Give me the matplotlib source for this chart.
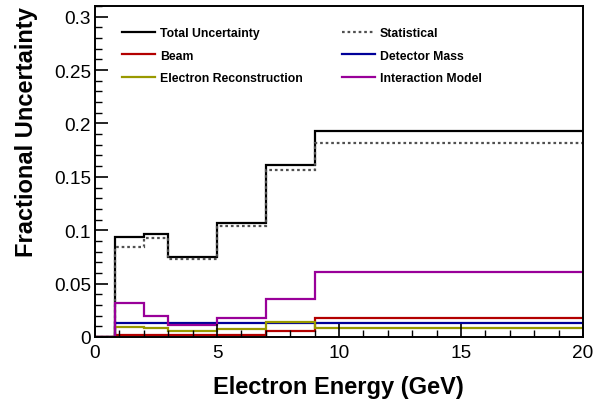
import matplotlib
matplotlib.use("Agg")
import matplotlib.pyplot as plt
from matplotlib.ticker import MultipleLocator, FixedFormatter, FixedLocator

plt.rcParams['font.family'] = ['Liberation Sans', 'DejaVu Sans']

# bin edges (GeV) and fractional uncertainties per bin
edges = [0, 0.8, 2, 3, 5, 7, 9, 20]
total = [0, 0.0935, 0.096, 0.075, 0.1065, 0.1615, 0.193]
statistical = [0, 0.084, 0.0925, 0.073, 0.104, 0.156, 0.182]
beam = [0, 0.0016, 0.0016, 0.0015, 0.002, 0.006, 0.0178]
detector_mass = [0, 0.0128, 0.0128, 0.0128, 0.0128, 0.0128, 0.0128]
electron_reco = [0, 0.0097, 0.0087, 0.006, 0.0075, 0.0143, 0.0087]
interaction = [0, 0.0318, 0.020, 0.0112, 0.018, 0.036, 0.0605]

W, H = 600, 402
fig = plt.figure(figsize=(6, 4.02), dpi=100)
ax = fig.add_axes([95 / W, 1 - 338 / H, 488 / W, 331 / H])

lw = 1.6
ax.stairs(total, edges, baseline=None, color='black', lw=lw, label='Total Uncertainty')
ax.stairs(statistical, edges, baseline=None, color='#505050', lw=lw, ls=(0, (1.2, 1.3)),
          label='Statistical')
ax.stairs(beam, edges, baseline=None, color='#b30000', lw=lw, label='Beam')
ax.stairs(detector_mass, edges, baseline=None, color='#000099', lw=lw, label='Detector Mass')
ax.stairs(electron_reco, edges, baseline=None, color='#999900', lw=lw,
          label='Electron Reconstruction')
ax.stairs(interaction, edges, baseline=None, color='#990099', lw=lw, label='Interaction Model')

ax.set_xlim(0, 20)
ax.set_ylim(0, 0.31)

ax.xaxis.set_major_locator(MultipleLocator(5))
ax.xaxis.set_minor_locator(MultipleLocator(1))
yt = [0, 0.05, 0.1, 0.15, 0.2, 0.25, 0.3]
ax.yaxis.set_major_locator(FixedLocator(yt))
ax.yaxis.set_major_formatter(FixedFormatter(['0', '0.05', '0.1', '0.15', '0.2', '0.25', '0.3']))
ax.yaxis.set_minor_locator(MultipleLocator(0.01))
ax.tick_params(which='both', direction='in', top=False, right=False, labelsize=13.7)
ax.tick_params(which='major', length=9.5, width=1.2)
ax.tick_params(which='minor', length=5, width=1.0)
ax.tick_params(axis='x', pad=5)
ax.tick_params(axis='y', pad=3)
for s in ax.spines.values():
    s.set_linewidth(1.4)

fig.text(338.5 / W, 1 - 394 / H, 'Electron Energy (GeV)', fontsize=17, fontweight='bold',
         ha='center', va='baseline')
fig.text(33 / W, 1 - 7 / H, 'Fractional Uncertainty', fontsize=17, fontweight='bold',
         rotation=90, rotation_mode='anchor', ha='right', va='baseline')

handles, labels = ax.get_legend_handles_labels()
order = [0, 2, 4, 1, 3, 5]
fs = 8.8
leg = ax.legend([handles[i] for i in order], [labels[i] for i in order], ncol=2,
                loc='upper left', bbox_to_anchor=((122 - 95) / 488, (338 - 28) / 331),
                frameon=False, prop={'weight': 'bold', 'size': fs},
                handlelength=2.7, handletextpad=0.4, borderpad=0, borderaxespad=0,
                labelspacing=0.86, columnspacing=3.2)

fig.savefig('out.png', dpi=100)
